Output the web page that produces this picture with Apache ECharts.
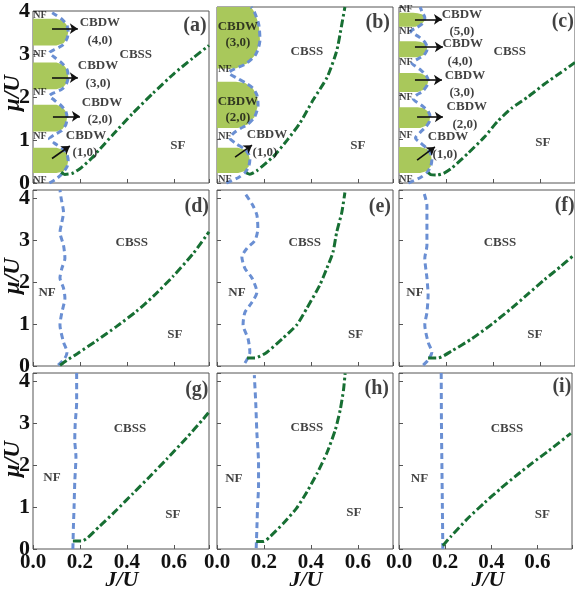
<!DOCTYPE html>
<html>
<head>
<meta charset="utf-8">
<script src="https://cdn.jsdelivr.net/npm/echarts@6/dist/echarts.min.js"></script>
<style>
  html, body { margin: 0; padding: 0; background: #fff; }
  #main { width: 575px; height: 589px; }
</style>
</head>
<body>
<div id="main"></div>
<script>
// every point is [J/U, mu/U]

// ---- row 1 ----
var nfA = [[0.07,0],[0.1,0.1],[0.125,0.22],[0.145,0.38],[0.15,0.52],[0.145,0.66],[0.125,0.8],[0.09,0.93],[0.07,1.03],
  [0.09,1.12],[0.12,1.21],[0.14,1.36],[0.145,1.51],[0.14,1.66],[0.12,1.8],[0.09,1.93],[0.07,2.03],
  [0.09,2.1],[0.125,2.19],[0.145,2.34],[0.15,2.49],[0.145,2.64],[0.125,2.78],[0.09,2.93],[0.07,3.03],
  [0.09,3.1],[0.125,3.2],[0.145,3.36],[0.15,3.51],[0.145,3.66],[0.125,3.8],[0.09,3.93],[0.07,4.0]];
var sfA = [[0.12,0.25],[0.135,0.2],[0.165,0.22],[0.2,0.33],[0.245,0.55],[0.285,0.79],[0.34,1.12],[0.425,1.62],
  [0.51,2.08],[0.6,2.54],[0.68,2.9],[0.75,3.2]];
var lobesA = [
  [[0,0.23],[0.1,0.23],[0.13,0.27],[0.145,0.38],[0.15,0.52],[0.145,0.66],[0.13,0.77],[0.1,0.82],[0,0.82]],
  [[0,1.2],[0.1,1.2],[0.125,1.25],[0.14,1.36],[0.145,1.51],[0.14,1.66],[0.125,1.77],[0.1,1.82],[0,1.82]],
  [[0,2.18],[0.1,2.18],[0.13,2.23],[0.145,2.34],[0.15,2.49],[0.145,2.64],[0.13,2.75],[0.1,2.8],[0,2.8]],
  [[0,3.2],[0.1,3.2],[0.13,3.25],[0.145,3.36],[0.15,3.51],[0.145,3.66],[0.13,3.77],[0.1,3.82],[0,3.82]]
];
var textA = [[0.03,3.89,'NF'],[0.03,2.98,'NF'],[0.03,2.11,'NF'],[0.03,1.09,'NF'],[0.03,0.07,'NF'],
  [0.285,3.73,'CBDW'],[0.285,3.3,'(4,0)'],[0.277,2.73,'CBDW'],[0.277,2.3,'(3,0)'],
  [0.294,1.86,'CBDW'],[0.285,1.48,'(2,0)'],[0.226,1.09,'CBDW'],[0.221,0.7,'(1,0)'],
  [0.438,2.98,'CBSS'],[0.617,0.86,'SF'],[0.69,3.66,'(a)']];
var arrowsA = [[0.081,3.59,0.191,3.59],[0.081,2.45,0.191,2.45],[0.085,1.55,0.2,1.55],[0.081,0.57,0.157,0.86]];

var nfB = [[0.04,0],[0.09,0.12],[0.12,0.24],[0.135,0.38],[0.14,0.52],[0.135,0.65],[0.12,0.76],[0.08,0.9],[0.055,1.02],
  [0.07,1.13],[0.1,1.24],[0.13,1.33],[0.16,1.5],[0.175,1.77],[0.17,2.0],[0.15,2.17],[0.12,2.28],[0.08,2.4],[0.05,2.5],
  [0.07,2.58],[0.12,2.7],[0.165,2.92],[0.183,3.25],[0.178,3.6],[0.16,3.88],[0.145,4.0]];
var sfB = [[0.125,0.23],[0.14,0.2],[0.17,0.28],[0.24,0.6],[0.3,0.98],[0.353,1.36],[0.41,1.89],[0.47,2.41],
  [0.51,3.0],[0.53,3.55],[0.545,4.0]];
var lobesB = [
  [[0,0.23],[0.09,0.23],[0.12,0.27],[0.135,0.38],[0.14,0.52],[0.135,0.65],[0.12,0.75],[0.09,0.8],[0,0.8]],
  [[0,1.25],[0.09,1.25],[0.13,1.33],[0.16,1.5],[0.175,1.77],[0.17,2.0],[0.15,2.17],[0.12,2.27],[0.08,2.3],[0,2.3]],
  [[0,2.6],[0.08,2.6],[0.13,2.72],[0.165,2.92],[0.183,3.25],[0.178,3.6],[0.16,3.88],[0.145,4.0],[0,4.0]]
];
var textB = [[0.034,2.57,'NF'],[0.034,1.05,'NF'],[0.034,0.07,'NF'],
  [0.089,3.55,'CBDW'],[0.089,3.18,'(3,0)'],[0.089,1.84,'CBDW'],[0.089,1.48,'(2,0)'],
  [0.213,1.09,'CBDW'],[0.204,0.68,'(1,0)'],
  [0.383,2.98,'CBSS'],[0.6,0.86,'SF'],[0.685,3.64,'(b)']];
var arrowsB = [[0.077,0.59,0.149,0.86]];

var nfC = [[0.04,0],[0.09,0.12],[0.12,0.24],[0.135,0.38],[0.14,0.52],[0.135,0.66],[0.12,0.78],[0.09,0.92],[0.07,1.02],
  [0.09,1.15],[0.115,1.28],[0.13,1.4],[0.132,1.5],[0.125,1.62],[0.1,1.75],[0.06,1.92],[0.075,2.0],
  [0.1,2.08],[0.12,2.22],[0.125,2.32],[0.115,2.45],[0.09,2.58],[0.055,2.73],[0.08,2.82],
  [0.105,2.9],[0.118,3.0],[0.12,3.08],[0.11,3.2],[0.085,3.32],[0.05,3.45],[0.075,3.53],
  [0.095,3.6],[0.108,3.68],[0.11,3.76],[0.1,3.87],[0.09,4.0]];
var sfC = [[0.125,0.24],[0.135,0.19],[0.16,0.18],[0.19,0.22],[0.225,0.34],[0.295,0.68],[0.365,1.05],[0.42,1.4],
  [0.48,1.7],[0.55,1.96],[0.62,2.25],[0.69,2.51],[0.75,2.74]];
var lobesC = [
  [[0,0.23],[0.09,0.23],[0.12,0.27],[0.135,0.38],[0.14,0.52],[0.135,0.66],[0.12,0.77],[0.09,0.82],[0,0.82]],
  [[0,1.25],[0.09,1.25],[0.115,1.3],[0.13,1.4],[0.132,1.5],[0.125,1.62],[0.105,1.7],[0.08,1.72],[0,1.72]],
  [[0,2.07],[0.08,2.07],[0.105,2.12],[0.12,2.22],[0.125,2.32],[0.115,2.43],[0.095,2.49],[0.07,2.5],[0,2.5]],
  [[0,2.86],[0.08,2.86],[0.105,2.91],[0.118,3.0],[0.12,3.08],[0.11,3.17],[0.09,3.21],[0.07,3.22],[0,3.22]],
  [[0,3.55],[0.07,3.55],[0.095,3.6],[0.108,3.68],[0.11,3.76],[0.1,3.83],[0.08,3.86],[0.06,3.87],[0,3.87]]
];
var textC = [[0.03,3.95,'NF'],[0.03,3.45,'NF'],[0.03,2.75,'NF'],[0.03,1.95,'NF'],[0.03,1.07,'NF'],[0.03,0.07,'NF'],
  [0.268,3.82,'CBDW'],[0.268,3.43,'(5,0)'],[0.272,3.16,'CBDW'],[0.26,2.75,'(4,0)'],
  [0.281,2.45,'CBDW'],[0.268,2.05,'(3,0)'],[0.289,1.73,'CBDW'],[0.281,1.32,'(2,0)'],
  [0.209,1.05,'CBDW'],[0.196,0.64,'(1,0)'],
  [0.472,2.98,'CBSS'],[0.613,0.91,'SF'],[0.698,3.66,'(c)']];
var arrowsC = [[0.068,3.72,0.183,3.72],[0.068,3.09,0.187,3.09],[0.068,2.34,0.183,2.34],[0.077,1.5,0.187,1.5],[0.077,0.52,0.153,0.82]];

// ---- row 2 ----
var nfD = [[0.107,0.02],[0.136,0.19],[0.145,0.33],[0.13,0.57],[0.115,0.98],[0.123,1.28],[0.136,1.62],[0.13,1.86],
  [0.115,2.1],[0.123,2.33],[0.136,2.57],[0.13,2.88],[0.115,3.19],[0.123,3.43],[0.13,3.67],[0.12,4.0],[0.115,4.2]];
var sfD = [[0.115,0.02],[0.145,0.14],[0.19,0.3],[0.27,0.6],[0.355,0.94],[0.44,1.3],[0.512,1.66],[0.597,2.14],
  [0.682,2.68],[0.75,3.2]];
var textD = [[0.06,1.74,'NF'],[0.421,2.95,'CBSS'],[0.604,0.74,'SF'],[0.698,3.79,'(d)']];

var nfE = [[0.119,0.07],[0.14,0.33],[0.132,0.66],[0.111,0.98],[0.119,1.28],[0.149,1.52],[0.17,1.76],[0.149,2.1],
  [0.119,2.33],[0.106,2.6],[0.128,2.81],[0.162,3.0],[0.174,3.28],[0.17,3.6],[0.153,3.83],[0.119,4.12]];
var sfE = [[0.128,0.19],[0.162,0.19],[0.213,0.33],[0.28,0.66],[0.34,0.98],[0.383,1.38],[0.438,1.93],[0.468,2.33],
  [0.494,2.71],[0.51,3.19],[0.532,3.67],[0.545,4.14]];
var textE = [[0.085,1.76,'NF'],[0.374,2.95,'CBSS'],[0.591,0.76,'SF'],[0.694,3.79,'(e)']];

var nfF = [[0.103,0.02],[0.124,0.14],[0.14,0.33],[0.124,0.57],[0.11,0.98],[0.119,1.28],[0.124,1.69],[0.119,2.1],
  [0.11,2.57],[0.119,2.88],[0.119,3.36],[0.119,3.83],[0.106,4.14]];
var sfF = [[0.124,0.19],[0.166,0.19],[0.225,0.36],[0.31,0.65],[0.396,1.0],[0.48,1.38],[0.55,1.72],[0.62,2.06],
  [0.69,2.38],[0.74,2.62]];
var textF = [[0.068,1.76,'NF'],[0.43,2.95,'CBSS'],[0.579,0.76,'SF'],[0.706,3.83,'(f)']];

// ---- row 3 ----
var nfG = [[0.17,0],[0.172,0.5],[0.175,1.0],[0.178,1.6],[0.183,2.2],[0.178,2.6],[0.18,3.0],[0.186,3.5],[0.186,4.2]];
var sfG = [[0.17,0.19],[0.208,0.19],[0.285,0.55],[0.356,0.93],[0.427,1.33],[0.498,1.73],[0.569,2.14],[0.654,2.65],
  [0.725,3.1],[0.75,3.27]];
var textG = [[0.081,1.71,'NF'],[0.413,2.88,'CBSS'],[0.596,0.83,'SF'],[0.698,3.79,'(g)']];

var nfH = [[0.167,0.02],[0.17,0.5],[0.173,1.02],[0.177,1.5],[0.177,2.05],[0.17,2.76],[0.165,3.5],[0.159,4.15]];
var sfH = [[0.167,0.18],[0.199,0.18],[0.227,0.3],[0.284,0.62],[0.34,0.98],[0.383,1.36],[0.426,1.8],[0.468,2.29],
  [0.504,2.84],[0.525,3.32],[0.539,3.79],[0.546,4.19]];
var textH = [[0.072,1.67,'NF'],[0.383,2.9,'CBSS'],[0.583,0.86,'SF'],[0.681,3.83,'(h)']];

var nfI = [[0.19,0],[0.188,1.0],[0.186,2.0],[0.184,3.0],[0.183,4.2]];
var sfI = [[0.19,0.08],[0.225,0.3],[0.3,0.74],[0.37,1.1],[0.44,1.44],[0.51,1.76],[0.58,2.06],[0.65,2.35],
  [0.745,2.76]];
var textI = [[0.089,1.69,'NF'],[0.468,2.88,'CBSS'],[0.621,0.83,'SF'],[0.706,3.86,'(i)']];

var jTicks = [0, 0.2, 0.4, 0.6];
var muTicks = [0, 1, 2, 3, 4];

var BLUE = '#6a8fd3', GREEN = '#176f33', FILL = '#a9c85b', BORDER = '#555', INK = '#111';
var FONT = 'Liberation Serif';

var panels = [
  {nf: nfA, sf: sfA, lobes: lobesA, text: textA, arrows: arrowsA},
  {nf: nfB, sf: sfB, lobes: lobesB, text: textB, arrows: arrowsB},
  {nf: nfC, sf: sfC, lobes: lobesC, text: textC, arrows: arrowsC},
  {nf: nfD, sf: sfD, lobes: [], text: textD, arrows: []},
  {nf: nfE, sf: sfE, lobes: [], text: textE, arrows: []},
  {nf: nfF, sf: sfF, lobes: [], text: textF, arrows: []},
  {nf: nfG, sf: sfG, lobes: [], text: textG, arrows: []},
  {nf: nfH, sf: sfH, lobes: [], text: textH, arrows: []},
  {nf: nfI, sf: sfI, lobes: [], text: textI, arrows: []}
];

var colLeft = [33, 217, 399];
var rowTop = [7, 190, 373];
var boxW = 176, boxH = 176;
var muMax = [4, 4.2, 4.2];

var chart = echarts.init(document.getElementById('main'), null, {renderer: 'canvas'});

function textSize(t, row) {
  if (t.length === 3 && t.charAt(0) === '(') return 20;
  if (t === 'NF' && row === 0) return 10;
  return 13;
}

var grids = [], xAxes = [], yAxes = [], series = [], graphics = [];

panels.forEach(function (p, i) {
  var r = Math.floor(i / 3), c = i % 3;
  grids.push({
    left: colLeft[c], top: rowTop[r], width: boxW, height: boxH,
    show: true, borderColor: BORDER, borderWidth: 1, backgroundColor: '#fff'
  });
  xAxes.push({
    gridIndex: i, type: 'value', min: 0, max: 0.75, interval: 0.2,
    axisLine: {show: false}, splitLine: {show: false},
    axisTick: {inside: true, length: 4, lineStyle: {color: BORDER}},
    axisLabel: {
      show: r === 2, margin: 3, color: INK, fontFamily: FONT, fontWeight: 'bold', fontSize: 21,
      formatter: function (v) {
        return jTicks.some(function (t) { return Math.abs(t - v) < 1e-6; }) ? v.toFixed(1) : '';
      }
    }
  });
  yAxes.push({
    gridIndex: i, type: 'value', min: 0, max: muMax[r], interval: 1,
    axisLine: {show: false}, splitLine: {show: false},
    axisTick: {inside: true, length: 4, lineStyle: {color: BORDER}},
    axisLabel: {
      show: c === 0, margin: 3, color: INK, fontFamily: FONT, fontWeight: 'bold', fontSize: 22,
      formatter: function (v) { return muTicks.indexOf(v) >= 0 ? String(v) : ''; }
    }
  });

  if (p.lobes.length) {
    series.push({
      type: 'custom', xAxisIndex: i, yAxisIndex: i, z: 1, silent: true, clip: true,
      data: p.lobes.map(function (l) { return [l[0][0], l[0][1]]; }),
      renderItem: function (params, api) {
        var poly = p.lobes[params.dataIndex];
        return {
          type: 'polygon',
          shape: {points: poly.map(function (q) { return api.coord(q); })},
          style: {fill: FILL}
        };
      }
    });
  }

  series.push({
    type: 'line', xAxisIndex: i, yAxisIndex: i, data: p.nf, showSymbol: false, smooth: 0.25,
    lineStyle: {color: BLUE, width: 3, type: [6, 4]}, z: 3, silent: true
  });
  series.push({
    type: 'line', xAxisIndex: i, yAxisIndex: i, data: p.sf, showSymbol: false, smooth: 0.2,
    lineStyle: {color: GREEN, width: 3, type: [8, 3, 2.5, 3]}, z: 3, silent: true
  });

  series.push({
    type: 'scatter', xAxisIndex: i, yAxisIndex: i, symbolSize: 0, z: 5, silent: true,
    data: p.text.map(function (t) {
      return {name: t[2], value: [t[0], t[1]], label: {fontSize: textSize(t[2], r)}};
    }),
    label: {show: true, position: 'inside', formatter: '{b}', color: INK, fontFamily: FONT, fontWeight: 'bold'},
    markLine: {
      silent: true, symbol: ['none', 'arrow'], symbolSize: 8,
      lineStyle: {color: INK, width: 1.6, type: 'solid'}, label: {show: false},
      data: p.arrows.map(function (a) {
        return [{coord: [a[0], a[1]]}, {coord: [a[2], a[3]]}];
      })
    }
  });
});

// axis names
rowTop.forEach(function (t) {
  graphics.push({
    type: 'text', x: 13, y: t + 86, rotation: Math.PI / 2,
    style: {text: 'μ/U', font: 'italic bold 23px "Liberation Serif"', fill: INK, align: 'center', verticalAlign: 'middle'}
  });
});
colLeft.forEach(function (l) {
  graphics.push({
    type: 'text', x: l + 89, y: 580,
    style: {text: 'J/U', font: 'italic bold 22px "Liberation Serif"', fill: INK, align: 'center', verticalAlign: 'middle'}
  });
});

chart.setOption({
  animation: false,
  backgroundColor: '#fff',
  grid: grids,
  xAxis: xAxes,
  yAxis: yAxes,
  series: series,
  graphic: graphics
});

window.addEventListener('resize', function () {
  chart.resize();
});
</script>
</body>
</html>
